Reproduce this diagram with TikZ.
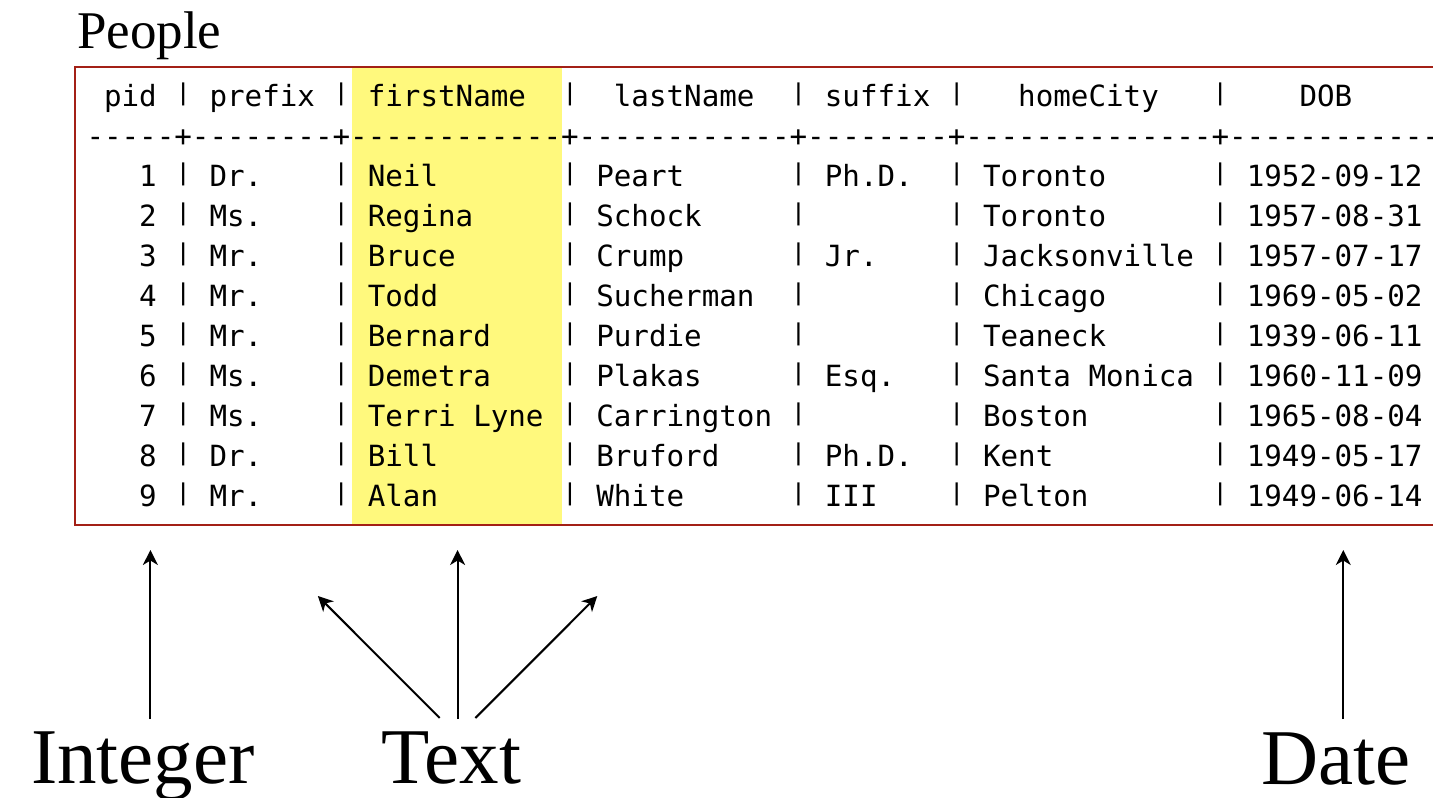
\documentclass[tikz,border=0pt]{standalone}
\usepackage{fontspec}
\usepackage{graphicx}
\setmainfont{Liberation Serif}
\setmonofont{DejaVu Sans Mono}
\usetikzlibrary{arrows.meta}
\definecolor{hl}{RGB}{255,249,125}
\definecolor{boxred}{RGB}{163,32,22}
\newlength\cw
\setlength\cw{17.58pt}
\newcommand\pp{\makebox[\cw][c]{\raisebox{5.4pt}{\scalebox{0.9}[0.79]{|}}}}
\newcommand\cR[2]{\makebox[#1\cw][r]{#2\hspace*{\cw}}}
\newcommand\cL[2]{\makebox[#1\cw][l]{\hspace*{\cw}#2}}
\newcommand\cI[3]{\makebox[#1\cw][l]{\hspace*{#2\cw}#3}}
\newcommand\dd[1]{\makebox[#1\cw][l]{\foreach\i in {1,...,#1}{-}}}
\newcommand\trow[7]{\cR{5}{#1}\pp\cL{8}{#2}\pp\cL{12}{#3}\pp\cL{12}{#4}\pp\cL{8}{#5}\pp\cL{14}{#6}\pp\cL{12}{#7}}
\begin{document}
\begin{tikzpicture}[x=1pt,y=-1pt,
  mono/.style={anchor=base west, inner sep=0pt, font=\fontsize{29.2}{30}\ttfamily},
  lab/.style={anchor=base, inner sep=0pt, font=\fontsize{79}{80}\selectfont},
  arr/.style={line width=2pt, -{Stealth[length=15pt,width=15pt,inset=4.5pt]}}]
\useasboundingbox (0,0) rectangle (1433,798);
\clip (0,0) rectangle (1433,798);
% highlight of the firstName column
\fill[hl] (352,67.7) rectangle (562,524);
% title
\node[anchor=base west, inner sep=0pt, font=\fontsize{53}{54}\selectfont] (title) at (77,48) {People};
% table lines
\node[mono] (hdr) at (86.3,106) {\cL{5}{pid}\pp\cL{8}{prefix}\pp\cL{12}{firstName}\pp\cI{12}{2}{lastName}\pp\cL{8}{suffix}\pp\cI{14}{3}{homeCity}\pp\cI{12}{4}{DOB}};
\node[mono] (sep) at (86.3,146) {\dd{5}+\dd{8}+\dd{12}+\dd{12}+\dd{8}+\dd{14}+\dd{12}};
\node[mono] (r1) at (86.3,186) {\trow{1}{Dr.}{Neil}{Peart}{Ph.D.}{Toronto}{1952-09-12}};
\node[mono] (r2) at (86.3,226) {\trow{2}{Ms.}{Regina}{Schock}{}{Toronto}{1957-08-31}};
\node[mono] (r3) at (86.3,266) {\trow{3}{Mr.}{Bruce}{Crump}{Jr.}{Jacksonville}{1957-07-17}};
\node[mono] (r4) at (86.3,306) {\trow{4}{Mr.}{Todd}{Sucherman}{}{Chicago}{1969-05-02}};
\node[mono] (r5) at (86.3,346) {\trow{5}{Mr.}{Bernard}{Purdie}{}{Teaneck}{1939-06-11}};
\node[mono] (r6) at (86.3,386) {\trow{6}{Ms.}{Demetra}{Plakas}{Esq.}{Santa Monica}{1960-11-09}};
\node[mono] (r7) at (86.3,426) {\trow{7}{Ms.}{Terri Lyne}{Carrington}{}{Boston}{1965-08-04}};
\node[mono] (r8) at (86.3,466) {\trow{8}{Dr.}{Bill}{Bruford}{Ph.D.}{Kent}{1949-05-17}};
\node[mono] (r9) at (86.3,506) {\trow{9}{Mr.}{Alan}{White}{III}{Pelton}{1949-06-14}};
% table frame (runs off the right edge)
\draw[boxred, line width=2pt] (75,66.7) rectangle (1460,525);
% type labels
\node[lab] (int) at (143,783) {Integer};
\node[lab] (txt) at (451.5,783) {Text};
\node[lab] (date) at (1336,784) {Date};
% arrow end points
\coordinate (intTail) at (150.4,719);
\coordinate (intTip) at (150.4,550);
\coordinate (txtTailL) at (439.7,718);
\coordinate (txtTipL) at (317.9,596);
\coordinate (txtTailM) at (457.6,719);
\coordinate (txtTipM) at (457.6,550);
\coordinate (txtTailR) at (475.4,718);
\coordinate (txtTipR) at (597.3,596);
\coordinate (dateTail) at (1343.3,719);
\coordinate (dateTip) at (1343.3,550);
\draw[arr] (intTail) -- (intTip);
\draw[arr] (txtTailL) -- (txtTipL);
\draw[arr] (txtTailM) -- (txtTipM);
\draw[arr] (txtTailR) -- (txtTipR);
\draw[arr] (dateTail) -- (dateTip);
\end{tikzpicture}
\end{document}
